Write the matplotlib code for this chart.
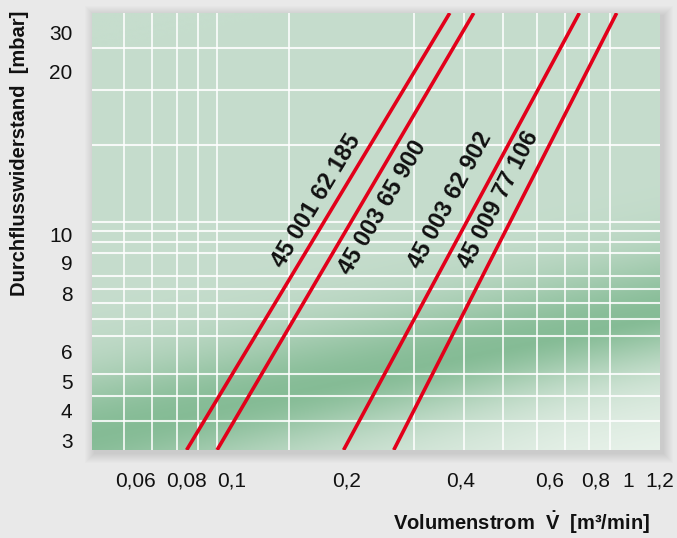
import numpy as np
import matplotlib

matplotlib.use("Agg")
import matplotlib.pyplot as plt
from matplotlib.patches import Rectangle
from matplotlib.transforms import IdentityTransform

plt.rcParams["font.family"] = ["Liberation Sans", "DejaVu Sans"]
plt.rcParams["mathtext.fontset"] = "custom"
plt.rcParams["mathtext.rm"] = "Liberation Sans:bold"
plt.rcParams["mathtext.it"] = "Liberation Sans:bold"
plt.rcParams["mathtext.bf"] = "Liberation Sans:bold"

# Kennlinien: Volumenstrom [m³/min] an der unteren / oberen Diagrammkante
flow_low = [0.080, 0.093, 0.197, 0.267]
flow_high = [0.375, 0.425, 0.722, 0.925]
# Durchflusswiderstand [mbar] an unterer / oberer Kante
dp_low = 2.7
dp_high = 35.1

part_numbers = ["45 001 62 185", "45 003 65 900", "45 003 62 902", "45 009 77 106"]
label_flow = [0.167, 0.249, 0.376, 0.476]
label_dp = [12.1, 11.7, 12.15, 12.15]

x_ticks = [0.06, 0.08, 0.1, 0.2, 0.4, 0.6, 0.8, 1.0, 1.2]
x_ticklabels = ["0,06", "0,08", "0,1", "0,2", "0,4", "0,6", "0,8", "1", "1,2"]
y_ticks = [3, 4, 5, 6, 8, 9, 10, 20, 30]
y_ticklabels = ["3", "4", "5", "6", "8", "9", "10", "20", "30"]

x_grid = [0.0564, 0.066, 0.0756, 0.0845, 0.0928, 0.1414, 0.301, 0.407,
          0.486, 0.566, 0.659, 0.765, 0.882, 1.0]
y_grid = [3.68, 4.53, 5.28, 6.0, 6.56, 7.15, 7.68, 8.15, 8.58, 9.0,
          9.35, 9.74, 10.25, 10.8, 15.5, 18.9, 26.2]

# the printed axes are neither linear nor log; tick values sit at these spots (px)
x_anchor_val = [0.03, 0.06, 0.08, 0.1, 0.2, 0.4, 0.6, 0.8, 1.0, 1.2, 2.0]
x_anchor_pos = [13, 136, 187, 232, 346, 460, 549, 595, 627, 659, 748]
y_anchor_val = [2, 3, 4, 5, 6, 8, 9, 10, 20, 30, 50]
y_anchor_pos = [-21, 9, 39, 68, 98, 156, 187, 215, 378, 417, 495]


def x_fwd(v):
    v = np.clip(np.asarray(v, dtype=float), 1e-6, None)
    return np.interp(np.log(v), np.log(x_anchor_val), x_anchor_pos)


def x_inv(p):
    return np.exp(np.interp(p, x_anchor_pos, np.log(x_anchor_val)))


def y_fwd(v):
    return np.interp(v, y_anchor_val, y_anchor_pos)


def y_inv(p):
    return np.interp(p, y_anchor_pos, y_anchor_val)


W, H = 677, 538
fig = plt.figure(figsize=(W / 100, H / 100), dpi=100, facecolor="#e9e9e9")
x0, y0, x1, y1 = 92, 450, 660, 13
rect = [x0 / W, 1 - y0 / H, (x1 - x0) / W, (y0 - y1) / H]

# soft drop shadow behind the plot panel
for k in range(1, 11):
    fig.add_artist(Rectangle((x0 - k + 3, H - y0 - k - 3), (x1 - x0) + 2 * k, (y0 - y1) + 2 * k,
                             transform=IdentityTransform(), facecolor="black",
                             edgecolor="none", alpha=0.012, zorder=0))

# green background gradient
bg = fig.add_axes(rect, zorder=1)
u = np.linspace(0, 1, 300)
v = np.linspace(0, 1, 220)
U, V = np.meshgrid(u, v)
band = 0.03 + 0.27 * U
d = V - band
dark = np.where(d > 0, np.exp(-(d / 0.15) ** 2), np.exp(-(d / 0.13) ** 2)) * 0.92
lift = np.clip(-d / 0.3, 0, 1) * np.clip(U * 1.2, 0, 1)
base = np.array([198, 221, 205]) / 255
darkc = np.array([128, 185, 145]) / 255
pale = np.array([232, 242, 234]) / 255
img = base * (1 - dark[..., None]) + darkc * dark[..., None]
img = img * (1 - lift[..., None]) + pale * lift[..., None]
bg.imshow(img, origin="lower", extent=(0, 1, 0, 1), aspect="auto", interpolation="bilinear")
bg.axis("off")

ax = fig.add_axes(rect, zorder=2)
ax.set_facecolor("none")
ax.set_xscale("function", functions=(x_fwd, x_inv))
ax.set_yscale("function", functions=(y_fwd, y_inv))
ax.set_xlim(0.047, 1.2)
ax.set_ylim(dp_low, dp_high)

ax.set_xticks(x_ticks, x_ticklabels)
ax.set_yticks(y_ticks, y_ticklabels)
ax.set_xticks(x_grid, minor=True)
ax.set_yticks(y_grid, minor=True)
ax.grid(False)
ax.grid(which="minor", axis="x", color="white", lw=1.2, alpha=0.95)
ax.grid(which="minor", axis="y", color="white", lw=1.5, alpha=0.85)
ax.tick_params(which="both", length=0)
ax.tick_params(axis="x", pad=26.5, labelsize=15, labelcolor="#111111")
ax.tick_params(axis="y", pad=14, labelsize=15, labelcolor="#111111")
for lbl in ax.get_xticklabels():
    lbl.set_verticalalignment("baseline")
for side in ax.spines.values():
    side.set_visible(False)
ax.set_axisbelow(True)

for lo, hi, name, lx, ly in zip(flow_low, flow_high, part_numbers, label_flow, label_dp):
    ax.plot([lo, hi], [dp_low, dp_high], color="#e2001a", lw=2.6, solid_capstyle="butt")
    p0 = ax.transData.transform((lo, dp_low))
    p1 = ax.transData.transform((hi, dp_high))
    angle = np.degrees(np.arctan2(p1[1] - p0[1], p1[0] - p0[0]))
    ax.text(lx, ly, name, rotation=angle, rotation_mode="anchor",
            ha="center", va="center", fontsize=17, fontweight="bold", color="#111111")

fig.text(20 / W, 1 - 153 / H, "Durchflusswiderstand  [mbar]", rotation=90,
         ha="center", va="center", fontsize=14.5, fontweight="bold", color="#111111")
fig.text(650 / W, 1 - 523 / H, r"Volumenstrom  $\dot{\mathrm{V}}$  [m³/min]",
         ha="right", va="center", fontsize=14.5, fontweight="bold", color="#111111")

fig.savefig("out.png", dpi=100, facecolor=fig.get_facecolor())
